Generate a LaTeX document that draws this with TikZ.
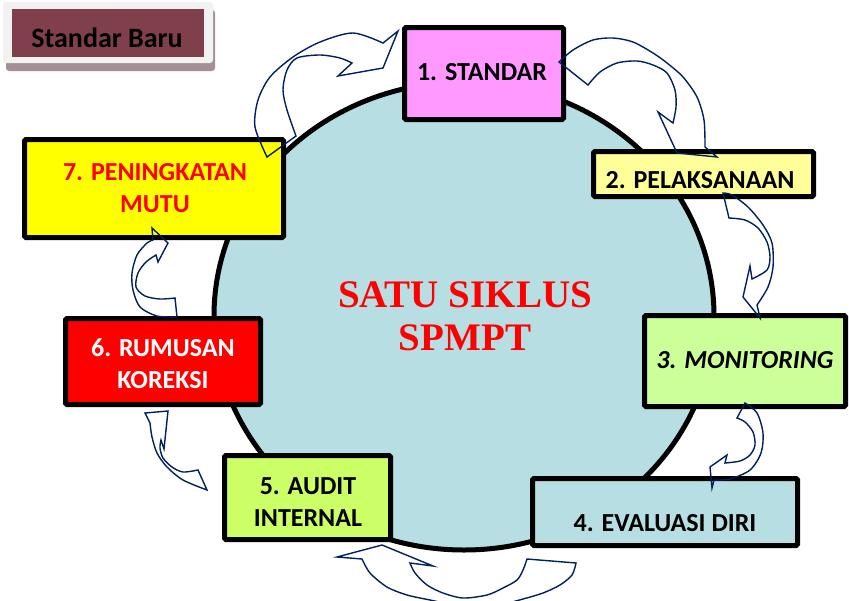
\documentclass[tikz,border=0pt]{standalone}
\usepackage{fontspec}
\setmainfont{Carlito}
\newfontfamily\timesfont{Liberation Serif}
\definecolor{cyc}{RGB}{183,222,226}
\definecolor{c1}{RGB}{255,153,255}
\definecolor{c2}{RGB}{255,255,153}
\definecolor{c3}{RGB}{204,255,153}
\definecolor{c5}{RGB}{204,255,102}
\definecolor{c6}{RGB}{255,0,0}
\definecolor{c7}{RGB}{255,255,0}
\definecolor{navy}{RGB}{0,32,96}
\definecolor{maroon}{RGB}{127,63,75}
\definecolor{frame}{RGB}{242,242,242}
\definecolor{shadowc}{RGB}{165,143,150}
\begin{document}
\begin{tikzpicture}[x=1pt,y=-1pt,
  box/.style={draw=black, line width=5pt, rounded corners=1.5pt, inner sep=0pt, anchor=center},
  lbl/.style={font=\fontsize{26pt}{26pt}\selectfont\bfseries, anchor=base, inner sep=0pt},
  arr/.style={draw=navy, line width=1.4pt, line join=miter}]
\useasboundingbox (0,0) rectangle (849,600);
\clip (0,0) rectangle (849,600);
\fill[white] (0,0) rectangle (849,600);

% Standar Baru
\fill[shadowc, rounded corners=3pt] (6,10) rectangle (215,71);
\fill[frame, rounded corners=3pt] (3,2) rectangle (213,63);
\fill[maroon] (12,9) rectangle (204,57);
\node[lbl, font=\fontsize{28pt}{28pt}\selectfont\bfseries] (sb) at (107,47) {Standar Baru};

% cycle
\draw[line width=5pt, fill=cyc] (464,316) ellipse [x radius=250pt, y radius=234pt];
\node[anchor=base, inner sep=0pt, text=red, font=\timesfont\fontsize{39pt}{39pt}\selectfont\bfseries] (s1) at (465,307) {SATU SIKLUS};
\node[anchor=base, inner sep=0pt, text=red, font=\timesfont\fontsize{39pt}{39pt}\selectfont\bfseries] (s2) at (465,350) {SPMPT};

% boxes
\node[box, fill=c1, minimum width=159pt, minimum height=92pt] (b1) at (484,73.5) {};
\node[box, fill=c2, minimum width=220pt, minimum height=45pt] (b2) at (703.5,174) {};
\node[box, fill=c3, minimum width=201pt, minimum height=91pt] (b3) at (745,361) {};
\node[box, fill=cyc, minimum width=265pt, minimum height=67pt] (b4) at (665,512) {};
\node[box, fill=c5, minimum width=166pt, minimum height=84pt] (b5) at (307.5,497.5) {};
\node[box, fill=c6, minimum width=195pt, minimum height=86pt] (b6) at (163,361.5) {};
\node[box, fill=c7, minimum width=259pt, minimum height=98pt] (b7) at (154,188.5) {};

% labels
\node[lbl] (t1) at (482,80) {1. STANDAR};
\node[lbl] (t2) at (700,188) {2. PELAKSANAAN};
\node[lbl, font=\fontsize{26pt}{26pt}\selectfont\bfseries\itshape] (t3) at (745,368) {3. MONITORING};
\node[lbl] (t4) at (665,531) {4. EVALUASI DIRI};
\node[lbl] (t5a) at (308,494) {5. AUDIT};
\node[lbl] (t5b) at (308,526) {INTERNAL};
\node[lbl, text=white] (t6a) at (163,356) {6. RUMUSAN};
\node[lbl, text=white] (t6b) at (163,388) {KOREKSI};
\node[lbl, text=red] (t7a) at (155,180) {7. PENINGKATAN};
\node[lbl, text=red] (t7b) at (155,212) {MUTU};

% curved block arrows
% 7 -> 1
\draw[arr] (267,157) -- plot[smooth] coordinates {(267,157) (255,127) (258,100) (270,77) (293,57) (320,42) (353,33) (383,43)}
  -- (398,31) -- (383,68) -- (338,76) -- (352,63)
  -- plot[smooth] coordinates {(352,63) (340,58) (320,55) (297,58) (287,70) (283,90) (287,110) (296,136)} -- cycle;
% 1 -> 2
\draw[arr] (559,62) -- plot[smooth] coordinates {(559,62) (573,50) (593,40) (613,38) (633,42) (653,53) (667,63) (683,77) (697,97) (704,120) (705,147)}
  -- (717,157) -- (677,153) -- (658,112) -- (673,123)
  -- plot[smooth] coordinates {(673,123) (676,107) (675,90) (667,73) (653,65) (637,61) (617,63) (600,72) (588,85)} -- cycle;
% 2 -> 3
\draw[arr] (723,193) -- (729,218)
  -- plot[smooth] coordinates {(729,218) (745,220) (758,228) (767,242) (770,257) (767,270) (752,279)}
  -- (750,266) -- (743,297) -- (760,318) -- (757,305)
  -- plot[smooth] coordinates {(757,305) (768,287) (773,267) (772,243) (763,225) (748,207) (732,195) (723,193)} -- cycle;
% 3 -> 4
\draw[arr] (745,403) -- plot[smooth] coordinates {(745,403) (757,413) (763,433) (761,453) (750,470) (730,479) (714,480)}
  -- (712,488) -- (710,467) -- (727,455) -- (725,463)
  -- plot[smooth] coordinates {(725,463) (740,461) (750,455) (755,445) (753,432) (745,422) (737,418)} -- cycle;
% 4 -> 5
\draw[arr] (527,559) -- (576,563)
  -- plot[smooth] coordinates {(576,563) (572,575) (560,585) (543,593) (523,599) (495,606) (465,607) (430,600) (407,595) (387,587) (370,573) (362,559)}
  -- (337,557) -- (382,545) -- (433,566) -- (410,563)
  -- plot[smooth] coordinates {(410,563) (415,573) (427,585) (443,593) (463,598) (487,595) (503,588) (517,580) (523,570) (527,559)} -- cycle;
% 5 -> 6
\draw[arr] (145,413) -- (150,423)
  -- plot[smooth] coordinates {(150,423) (152,437) (157,453) (167,467) (183,480) (207,490)}
  -- (198,470)
  -- plot[smooth] coordinates {(198,470) (183,472) (172,467) (163,458) (160,448) (161,440)}
  -- (164,449) -- (168,411) -- cycle;
% 6 -> 7
\draw[arr] (177,317) -- plot[smooth] coordinates {(177,317) (157,316) (140,307) (133,290) (132,273) (137,255) (147,243) (153,240)}
  -- (152,228) -- (168,243) -- (158,262) -- (156,255)
  -- plot[smooth] coordinates {(156,255) (146,262) (138,273) (136,287) (145,296) (160,299) (175,298)} -- cycle;
\end{tikzpicture}
\end{document}
